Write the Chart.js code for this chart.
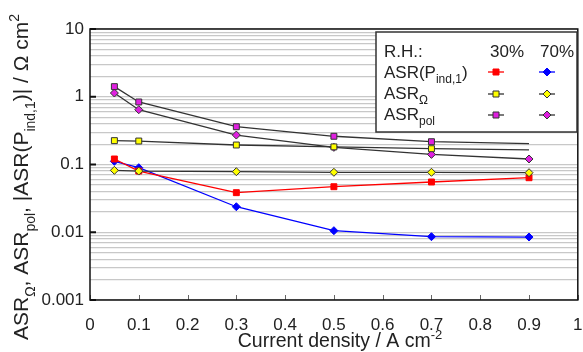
<!DOCTYPE html>
<html>
<head>
<meta charset="utf-8">
<script src="https://cdn.jsdelivr.net/npm/chart.js@4/dist/chart.umd.min.js"></script>
<style>
  html, body { margin: 0; padding: 0; background: #fff; }
  #wrap { width: 583px; height: 352px; position: relative; }
</style>
</head>
<body>
<div id="wrap"><canvas id="c"></canvas></div>
<script>
// ─── Data ──────────────────────────────────────────────────────────────────
const currentDensity = [0.05, 0.1, 0.3, 0.5, 0.7, 0.9];
const asrInd30 = [0.1206, 0.080, 0.0384, 0.047, 0.0552, 0.0638];
const asrInd70 = [0.1115, 0.0897, 0.0238, 0.01055, 0.0086, 0.0085];
const asrOhm30 = [0.225, 0.222, 0.194, 0.182, 0.171, 0.164];
const asrOhm70 = [0.082, 0.080, 0.0783, 0.0767, 0.0767, 0.0757];
const asrPol30 = [1.41, 0.837, 0.361, 0.261, 0.217, 0.203];
const asrPol70 = [1.135, 0.644, 0.272, 0.179, 0.141, 0.1206];
const xTickLabels = ['0', '0.1', '0.2', '0.3', '0.4', '0.5', '0.6', '0.7', '0.8', '0.9', '1'];
const yDecades = [0.001, 0.01, 0.1, 1, 10];
const yTickLabels = ['0.001', '0.01', '0.1', '1', '10'];

const FONT = '"Liberation Sans", Arial, sans-serif';
const RED = '#ff0000';
const BLUE = '#0000ff';
const YELLOW = '#ffff00';
const MAGENTA = '#e020e0';
const DARK = '#333333';

const pts = arr => arr.map((v, i) => ({ x: currentDensity[i], y: v }));
// last point of these two has no visible marker
const noLastMarker = (r) => currentDensity.map((_, i) => i === currentDensity.length - 1 ? 0 : r);

// ─── Helpers ───────────────────────────────────────────────────────────────
// text made of normal / sub / sup runs, drawn from x (left) on baseline y
function runSize(k, size) { return k === 'n' ? size : Math.round(size * 0.68); }
function runsWidth(ctx, runs, size) {
  let w = 0;
  runs.forEach(([t, k]) => { ctx.font = `${runSize(k, size)}px ${FONT}`; w += ctx.measureText(t).width; });
  return w;
}
function drawRuns(ctx, runs, x, y, size) {
  runs.forEach(([t, k]) => {
    ctx.font = `${runSize(k, size)}px ${FONT}`;
    const dy = k === 'sub' ? size * 0.32 : k === 'sup' ? -size * 0.42 : 0;
    ctx.fillText(t, x, y + dy);
    x += ctx.measureText(t).width;
  });
}
function marker(ctx, style, x, y, fill, stroke) {
  ctx.beginPath();
  if (style === 'rect') ctx.rect(x - 3, y - 3, 6, 6);
  else { ctx.moveTo(x, y - 4); ctx.lineTo(x + 4, y); ctx.lineTo(x, y + 4); ctx.lineTo(x - 4, y); ctx.closePath(); }
  ctx.fillStyle = fill; ctx.fill();
  ctx.lineWidth = 1; ctx.strokeStyle = stroke; ctx.stroke();
}

// ─── Overlay: frame, tick marks, legend, axis titles ───────────────────────
const overlay = {
  id: 'overlay',
  afterDraw(chart) {
    const { ctx, chartArea: a, scales } = chart;
    ctx.save();
    ctx.textBaseline = 'alphabetic';

    // tick marks pointing inward
    ctx.strokeStyle = '#666'; ctx.lineWidth = 1;
    xTickLabels.forEach((_, i) => {
      const px = Math.round(scales.x.getPixelForValue(i / 10)) + 0.5;
      ctx.beginPath(); ctx.moveTo(px, a.bottom); ctx.lineTo(px, a.bottom - 5); ctx.stroke();
    });
    ctx.strokeStyle = '#111'; ctx.lineWidth = 2;
    yDecades.forEach(v => {
      const py = scales.y.getPixelForValue(v);
      ctx.beginPath(); ctx.moveTo(a.left, py); ctx.lineTo(a.left + 6, py); ctx.stroke();
    });

    // frame
    ctx.strokeStyle = '#111'; ctx.lineWidth = 1.5;
    ctx.strokeRect(a.left, a.top, a.right - a.left, a.bottom - a.top);

    // legend box
    const lx = 376, ly = 32, lw = 201, lh = 100;
    ctx.fillStyle = '#fff'; ctx.fillRect(lx, ly, lw, lh);
    ctx.strokeStyle = DARK; ctx.lineWidth = 1.5; ctx.strokeRect(lx, ly, lw, lh);
    ctx.fillStyle = '#222';
    drawRuns(ctx, [['R.H.:', 'n']], 384, 57, 17);
    drawRuns(ctx, [['30%', 'n']], 490, 57, 17);
    drawRuns(ctx, [['70%', 'n']], 540, 57, 17);
    drawRuns(ctx, [['ASR(P', 'n'], ['ind,1', 'sub'], [')', 'n']], 384, 78, 17);
    drawRuns(ctx, [['ASR', 'n'], ['Ω', 'sub']], 384, 99, 17);
    drawRuns(ctx, [['ASR', 'n'], ['pol', 'sub']], 384, 120, 17);
    const rows = [
      [72, RED, RED, 'rect', BLUE, BLUE, 'rectRot', RED, BLUE],
      [94, YELLOW, DARK, 'rect', YELLOW, DARK, 'rectRot', DARK, DARK],
      [115, MAGENTA, DARK, 'rect', MAGENTA, DARK, 'rectRot', DARK, DARK],
    ];
    rows.forEach(([y, f1, s1, p1, f2, s2, p2, l1, l2]) => {
      ctx.lineWidth = 1.3;
      ctx.strokeStyle = l1; ctx.beginPath(); ctx.moveTo(488, y); ctx.lineTo(504, y); ctx.stroke();
      ctx.strokeStyle = l2; ctx.beginPath(); ctx.moveTo(539, y); ctx.lineTo(555, y); ctx.stroke();
      marker(ctx, p1, 496, y, f1, s1);
      marker(ctx, p2, 547, y, f2, s2);
    });

    // x title
    ctx.fillStyle = '#222';
    const xt = [['Current density / A cm', 'n'], ['-2', 'sup']];
    const xw = runsWidth(ctx, xt, 19.5);
    drawRuns(ctx, xt, 340 - xw / 2, 347, 19.5);

    // y title (rotated)
    const yt = [['ASR', 'n'], ['Ω', 'sub'], [', ASR', 'n'], ['pol', 'sub'], [', |ASR(P', 'n'], ['ind,1', 'sub'], [')| / Ω cm', 'n'], ['2', 'sup']];
    const yw = runsWidth(ctx, yt, 21);
    ctx.translate(28, 177);
    ctx.rotate(-Math.PI / 2);
    drawRuns(ctx, yt, -yw / 2, 0, 21);
    ctx.restore();
  }
};

// ─── Chart ─────────────────────────────────────────────────────────────────
const line = (data, color, fill, border, style, radius) => ({
  data: pts(data), borderColor: color, borderWidth: 1.3,
  pointStyle: style, pointRadius: radius, pointBackgroundColor: fill,
  pointBorderColor: border, pointBorderWidth: 1, tension: 0,
});

new Chart(document.getElementById('c'), {
  type: 'line',
  data: {
    datasets: [
      line(asrOhm30, DARK, YELLOW, DARK, 'rect', noLastMarker(4.2)),
      line(asrOhm70, DARK, YELLOW, DARK, 'rectRot', 4),
      line(asrPol30, DARK, MAGENTA, DARK, 'rect', noLastMarker(4.2)),
      line(asrPol70, DARK, MAGENTA, DARK, 'rectRot', 4),
      line(asrInd30, RED, RED, RED, 'rect', 4.2),
      line(asrInd70, BLUE, BLUE, BLUE, 'rectRot', 4),
    ]
  },
  options: {
    responsive: true, maintainAspectRatio: false, animation: false,
    layout: { padding: { top: 29, right: 4, left: 0, bottom: 0 } },
    plugins: { legend: { display: false }, tooltip: { enabled: false } },
    scales: {
      x: {
        type: 'linear', min: 0, max: 1,
        afterBuildTicks: s => { s.ticks = xTickLabels.map((_, i) => ({ value: i / 10 })); },
        afterFit: s => { s.height = 52; s.paddingLeft = 0; s.paddingRight = 0; },
        grid: { display: false },
        border: { display: false },
        ticks: { color: '#222', font: { size: 17, family: FONT }, padding: 7, maxRotation: 0,
          callback: (v, i) => xTickLabels[i] },
      },
      y: {
        type: 'logarithmic', min: 0.001, max: 10,
        afterBuildTicks: s => {
          const t = [];
          yDecades.slice(0, -1).forEach(d => { for (let k = 1; k <= 9; k++) t.push({ value: +(d * k).toPrecision(3) }); });
          t.push({ value: 10 });
          s.ticks = t;
        },
        afterFit: s => { s.width = 90; s.paddingTop = 0; s.paddingBottom = 0; },
        grid: { color: '#c8c8c8', lineWidth: 1.2, drawTicks: false },
        border: { display: false },
        ticks: { color: '#222', font: { size: 17, family: FONT }, padding: 6, autoSkip: false,
          callback: v => { const i = yDecades.findIndex(d => Math.abs(d - v) < d * 1e-6); return i >= 0 ? yTickLabels[i] : ''; } },
      }
    }
  },
  plugins: [overlay]
});
</script>
</body>
</html>
